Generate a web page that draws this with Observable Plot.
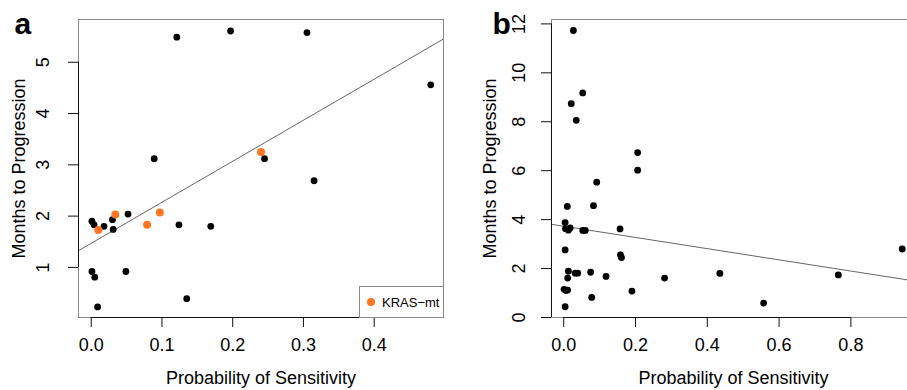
<!DOCTYPE html>
<html><head><meta charset="utf-8">
<script src="https://cdn.jsdelivr.net/npm/d3@7"></script>
<script src="https://cdn.jsdelivr.net/npm/@observablehq/plot@0.6"></script>
<style>
html,body{margin:0;padding:0;background:#fff;}
#wrap{position:relative;width:907px;height:390px;overflow:hidden;display:flex;font-family:"Liberation Sans",Arial,Helvetica,sans-serif;}
#wrap svg{flex:0 0 auto;display:block;}
#legend{position:absolute;left:359px;top:286px;width:85px;height:32px;box-sizing:border-box;border:1px solid #8a8a8a;background:#fff;display:flex;align-items:center;font-size:13px;color:#000;}
#legend .sw{width:8px;height:8px;border-radius:50%;background:#ff7722;margin-left:7px;margin-right:7px;}
</style>
</head><body>
<div id="wrap"></div>
<script>
// ---------- data ----------
const xTitle = "Probability of Sensitivity";
const yTitle = "Months to Progression";
const legendLabel = "KRAS\u2212mt";

// panel a
const aBlackX = [0.121, 0.197, 0.305, 0.480, 0.089, 0.245, 0.315, 0.001, 0.004, 0.018, 0.030, 0.031, 0.052, 0.124, 0.169, 0.001, 0.005, 0.049, 0.135, 0.009];
const aBlackY = [5.49, 5.61, 5.58, 4.56, 3.12, 3.12, 2.69, 1.90, 1.83, 1.80, 1.93, 1.74, 2.04, 1.83, 1.80, 0.92, 0.81, 0.92, 0.39, 0.23];
const aOrangeX = [0.010, 0.034, 0.079, 0.097, 0.240];
const aOrangeY = [1.73, 2.03, 1.83, 2.07, 3.25];
const aReg = [1.47, 8.0]; // intercept, slope
const aXTicks = [0, 0.1, 0.2, 0.3, 0.4];
const aYTicks = [1, 2, 3, 4, 5];
const aXDomain = [-0.018, 0.498];
const aYDomain = [0.023, 5.834];

// panel b
const bX = [0.027, 0.021, 0.053, 0.035, 0.206, 0.206, 0.092, 0.083, 0.010, 0.004, 0.005, 0.013, 0.018, 0.053, 0.060, 0.157, 0.158, 0.161, 0.004, 0.013, 0.011, 0.032, 0.039, 0.075, 0.118, 0.281, 0.435, 0.765, 0.943, 0.001, 0.006, 0.011, 0.190, 0.078, 0.557, 0.004];
const bY = [11.73, 8.74, 9.18, 8.06, 6.74, 6.02, 5.53, 4.57, 4.54, 3.88, 3.63, 3.57, 3.66, 3.56, 3.56, 3.62, 2.56, 2.45, 2.76, 1.89, 1.61, 1.81, 1.81, 1.85, 1.68, 1.61, 1.80, 1.74, 2.80, 1.15, 1.10, 1.12, 1.08, 0.82, 0.59, 0.44];
const bReg = [3.73, -2.29];
const bXTicks = [0, 0.2, 0.4, 0.6, 0.8];
const bYTicks = [0, 2, 4, 6, 8, 10, 12];
const bXDomain = [-0.034, 0.98];
const bYDomain = [0, 12.18];

// ---------- drawing ----------
const font = '"Liberation Sans", Arial, Helvetica, sans-serif';
const zip = (xs, ys) => xs.map((x, i) => ({x, y: ys[i]}));

function panel(o) {
  const regPts = o.xDomain.map(x => ({x, y: o.reg[0] + o.reg[1] * x}));
  const marks = [
    Plot.frame({stroke: "#8a8a8a"}),
    Plot.line(regPts, {x: "x", y: "y", stroke: "#666", strokeWidth: 1, clip: true}),
    Plot.dot(o.black, {x: "x", y: "y", r: 3.4, fill: "black"}),
  ];
  if (o.orange) marks.push(Plot.dot(o.orange, {x: "x", y: "y", r: 4, fill: "#ff7722"}));
  marks.push(
    Plot.ruleY([o.yDomain[0]], {x1: o.xTicks[0], x2: o.xTicks[o.xTicks.length - 1], stroke: "#111"}),
    Plot.ruleX([o.xDomain[0]], {y1: o.yTicks[0], y2: o.yTicks[o.yTicks.length - 1], stroke: "#111"}),
    Plot.axisX(o.xTicks, {tickSize: 10, tickPadding: 11, tickFormat: d3.format(".1f"), label: null, fontSize: 18, stroke: "#111"}),
    Plot.axisY(o.yTicks, {tickSize: 10, tickPadding: o.yPad, tickRotate: -90, textAnchor: "middle", tickFormat: d3.format("d"), label: null, fontSize: 18, stroke: "#111"}),
    Plot.text([xTitle], {text: d => d, frameAnchor: "bottom", dy: 66, fontSize: 18}),
    Plot.text([yTitle], {text: d => d, frameAnchor: "left", dx: o.yTitleDx, rotate: -90, textAnchor: "middle", fontSize: 18}),
    Plot.text([o.letter], {text: d => d, frameAnchor: "top-left", dx: o.letterDx, dy: -7.3, textAnchor: "start", lineAnchor: "top", fontSize: 30, fontWeight: "bold"})
  );
  return Plot.plot({
    width: o.width, height: 390,
    marginTop: 19, marginBottom: 73, marginLeft: o.marginLeft, marginRight: o.marginRight,
    x: {domain: o.xDomain}, y: {domain: o.yDomain},
    style: {fontFamily: font, fontSize: "18px", background: "white", color: "black", overflow: "visible"},
    marks
  });
}

const wrap = document.getElementById("wrap");
wrap.append(panel({
  width: 453, marginLeft: 78, marginRight: 10,
  xDomain: aXDomain, yDomain: aYDomain, xTicks: aXTicks, yTicks: aYTicks,
  reg: aReg, black: zip(aBlackX, aBlackY), orange: zip(aOrangeX, aOrangeY),
  letter: "a", letterDx: -64, yPad: 20, yTitleDx: -59
}));
wrap.append(panel({
  width: 462, marginLeft: 98, marginRight: 0,
  xDomain: bXDomain, yDomain: bYDomain, xTicks: bXTicks, yTicks: bYTicks,
  reg: bReg, black: zip(bX, bY),
  letter: "b", letterDx: -59, yPad: 17, yTitleDx: -61
}));
const lg = document.createElement("div");
lg.id = "legend";
lg.innerHTML = '<span class="sw"></span><span></span>';
lg.lastChild.textContent = legendLabel;
wrap.append(lg);
</script>
</body></html>
